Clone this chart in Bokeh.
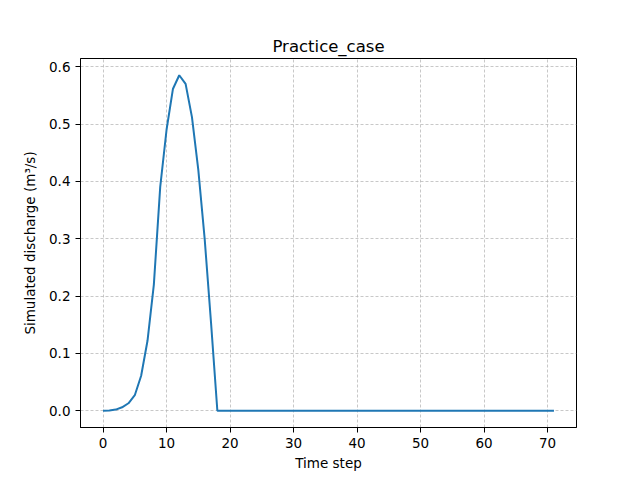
from bokeh.plotting import figure
from bokeh.models import Range1d, FixedTicker, PrintfTickFormatter
from bokeh.embed import file_html
from bokeh.resources import INLINE

time_step = list(range(72))
peak_values = [0.0, 0.0005, 0.002, 0.006, 0.013, 0.027, 0.061, 0.122, 0.22, 0.39,
               0.49, 0.561, 0.585, 0.570, 0.512, 0.42, 0.30, 0.154, 0.0]
discharge = peak_values + [0.0] * (72 - len(peak_values))
x_ticks = [0, 10, 20, 30, 40, 50, 60, 70]
y_ticks = [0.0, 0.1, 0.2, 0.3, 0.4, 0.5, 0.6]

p = figure(width=640, height=480, output_backend="svg", toolbar_location=None,
           title="Practice_case",
           x_range=Range1d(-3.55, 74.55), y_range=Range1d(-0.02925, 0.61425),
           min_border_left=80, min_border_right=64, min_border_top=58, min_border_bottom=53)

p.line(time_step, discharge, line_color="#1f77b4", line_width=2)

p.title.align = "center"
p.title.text_font = "DejaVu Sans"
p.title.text_font_size = "16.5px"
p.title.text_font_style = "normal"
p.title.text_color = "black"
p.title.standoff = 6

p.outline_line_color = "black"
p.outline_line_width = 1
p.outline_line_alpha = 1

for ax in (p.xaxis[0], p.yaxis[0]):
    ax.major_label_text_font = "DejaVu Sans"
    ax.major_label_text_font_size = "13.5px"
    ax.major_label_text_color = "black"
    ax.axis_label_text_font = "DejaVu Sans"
    ax.axis_label_text_font_size = "13.5px"
    ax.axis_label_text_font_style = "normal"
    ax.axis_label_text_color = "black"
    ax.minor_tick_line_color = None
    ax.major_tick_out = 5
    ax.major_tick_in = 0
    ax.major_tick_line_color = "black"
    ax.axis_line_color = "black"

p.xaxis.ticker = FixedTicker(ticks=x_ticks)
p.yaxis.ticker = FixedTicker(ticks=y_ticks)
p.yaxis.formatter = PrintfTickFormatter(format="%.1f")
p.xaxis.axis_label = "Time step"
p.yaxis.axis_label = "Simulated discharge (m³/s)"
p.xaxis.axis_label_standoff = 4
p.yaxis.axis_label_standoff = 8

p.grid.grid_line_color = "#b0b0b0"
p.grid.grid_line_alpha = 0.7
p.grid.grid_line_dash = "3 2"
p.background_fill_color = "white"
p.border_fill_color = "white"

open("out.html", "w").write(file_html(p, INLINE))
